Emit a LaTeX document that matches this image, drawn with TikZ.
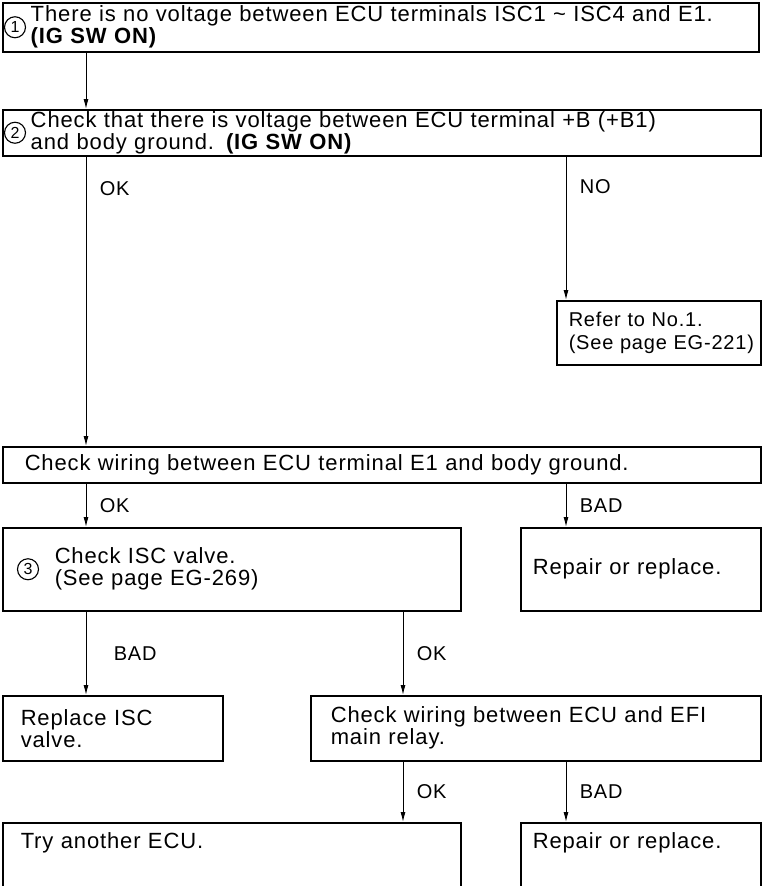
\documentclass[tikz,border=0pt]{standalone}
\usepackage{fontspec}
\setmainfont{Liberation Sans}[LetterSpace=4.0]
\usetikzlibrary{arrows.meta}

\tikzset{
  box/.style={draw, line width=1.5pt, anchor=north west, inner xsep=0pt,
    inner ysep=0pt, align=left, font=\fontsize{22}{22}\selectfont},
  lpad/.style={execute at begin node={\leftskip=#1}},
  num/.style={draw, circle, line width=1.1pt, inner sep=0pt, minimum size=21pt,
    font=\fontsize{16}{16}\selectfont},
  flow/.style={line width=1pt, -{Latex[length=10pt,width=5pt]}},
  tag/.style={anchor=west, xshift=10pt, font=\fontsize{20}{22}\selectfont}
}

\begin{document}
\begin{tikzpicture}[x=1pt, y=1pt]
    \useasboundingbox (0,0) rectangle (764,-886);
    \clip (0,0) rectangle (764,-886);
    \coordinate (colA) at (86,0);
    \coordinate (colB) at (566,0);
    \coordinate (colC) at (403,0);

    \node [box, lpad=28pt, text width=756pt, minimum height=49pt] (chk1) at (2,-2)
      {There is no voltage between ECU terminals ISC1 \textasciitilde{} ISC4 and E1.\\
       \textbf{(IG SW ON)}};
    \node [num] (no1) at ([xshift=13pt]chk1.west) {1};

    \node [box, lpad=28pt, text width=758pt, minimum height=46pt] (chk2) at (2,-109)
      {Check that there is voltage between ECU terminal +B (+B1)\\
       and body ground. \textbf{(IG SW ON)}};
    \node [num] (no2) at ([xshift=13pt]chk2.west) {2};

    \node [box, lpad=12pt, text width=204pt, minimum height=64pt,
      font=\fontsize{20}{23}\selectfont] (refer) at (556,-300)
      {Refer to No.1.\\(See page EG-221)};

    \node [box, lpad=22pt, text width=758pt, minimum height=36pt] (wire) at (2,-446)
      {Check wiring between ECU terminal E1 and body ground.};

    \node [box, lpad=52pt, text width=458pt, minimum height=83pt] (isc) at (2,-527)
      {Check ISC valve.\\(See page EG-269)};
    \node [num] (no3) at ([xshift=26pt]isc.west) {3};
    \node [box, lpad=12pt, text width=240pt, minimum height=83pt] (rep1) at (520,-527)
      {Repair or replace.};

    \node [box, lpad=18pt, text width=220pt, minimum height=65pt] (swap) at (2,-695)
      {Replace ISC\\valve.};
    \node [box, lpad=20pt, text width=450pt, minimum height=65pt] (relay) at (310,-695)
      {Check wiring between ECU and EFI\\main relay.};

    \node [box, lpad=18pt, text width=458pt, text height=26pt, text depth=60pt] (ecu) at (2,-822)
      {Try another ECU.};
    \node [box, lpad=12pt, text width=240pt, text height=26pt, text depth=60pt] (rep2) at (520,-822)
      {Repair or replace.};

    \draw [flow] (chk1.south -| colA) -- (chk2.north -| colA);
    \draw [flow] (chk2.south -| colA) -- node [tag, pos=0.11] {OK} (wire.north -| colA);
    \draw [flow] (chk2.south -| colB) -- node [tag, pos=0.21] {NO} (refer.north -| colB);
    \draw [flow] (wire.south -| colA) -- node [tag] {OK} (isc.north -| colA);
    \draw [flow] (wire.south -| colB) -- node [tag] {BAD} (rep1.north -| colB);
    \draw [flow] (isc.south -| colA) -- node [tag, xshift=14pt] {BAD} (swap.north -| colA);
    \draw [flow] (isc.south -| colC) -- node [tag] {OK} (relay.north -| colC);
    \draw [flow] (relay.south -| colC) -- node [tag] {OK} (ecu.north -| colC);
    \draw [flow] (relay.south -| colB) -- node [tag] {BAD} (rep2.north -| colB);
  \end{tikzpicture}
\end{document}
